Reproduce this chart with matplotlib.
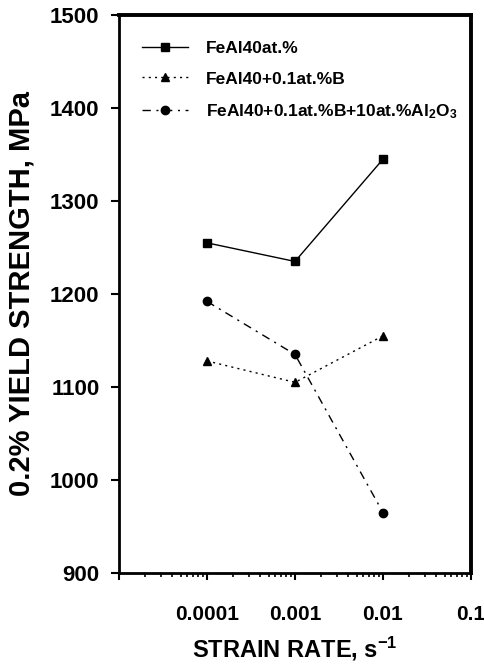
import matplotlib
matplotlib.use("Agg")
import matplotlib.pyplot as plt
from matplotlib.ticker import LogLocator, FixedLocator, NullFormatter, FixedFormatter

plt.rcParams['font.family'] = ['Liberation Sans', 'DejaVu Sans']
plt.rcParams['font.weight'] = 'bold'
plt.rcParams['mathtext.fontset'] = 'custom'
plt.rcParams['mathtext.rm'] = 'Liberation Sans:bold'
plt.rcParams['mathtext.bf'] = 'Liberation Sans:bold'
plt.rcParams['mathtext.it'] = 'Liberation Sans:bold'
plt.rcParams['mathtext.default'] = 'rm'

strain_rate = [0.0001, 0.001, 0.01]
feal40 = [1255, 1235, 1345]
feal40_b = [1128, 1105, 1155]
feal40_b_al2o3 = [1192, 1135, 965]
labels = ['FeAl40at.%', 'FeAl40+0.1at.%B', 'FeAl40+0.1at.%B+10at.%Al$_2$O$_3$']
xtick_vals = [0.0001, 0.001, 0.01, 0.1]
xtick_labels = ['0.0001', '0.001', '0.01', '0.1']
ytick_vals = [900, 1000, 1100, 1200, 1300, 1400, 1500]

W, H = 485, 668
fig = plt.figure(figsize=(W / 100, H / 100), dpi=100)
ax = fig.add_axes([119 / W, 1 - 573 / H, (471 - 119) / W, (573 - 15) / H])

ax.plot(strain_rate, feal40, color='black', lw=1.0, ls='-', marker='s', ms=5.5, label=labels[0])
ax.plot(strain_rate, feal40_b, color='black', lw=1.0, ls=(0, (1.5, 3)), marker='^', ms=6, label=labels[1])
ax.plot(strain_rate, feal40_b_al2o3, color='black', lw=1.0, ls=(0, (6, 4, 1.5, 4)), marker='o', ms=6, label=labels[2])

ax.set_xscale('log')
ax.set_xlim(1e-5, 0.1)
ax.set_ylim(900, 1500)

ax.xaxis.set_major_locator(FixedLocator([1e-5] + xtick_vals))
ax.xaxis.set_major_formatter(FixedFormatter([''] + xtick_labels))
ax.xaxis.set_minor_locator(LogLocator(base=10, subs=range(2, 10)))
ax.xaxis.set_minor_formatter(NullFormatter())
ax.set_yticks(ytick_vals)
ax.set_yticklabels([str(v) for v in ytick_vals])

ax.tick_params(axis='x', which='major', direction='out', length=5, width=1.5, pad=18, labelsize=15)
ax.tick_params(axis='x', which='minor', direction='out', length=3, width=1.2)
ax.tick_params(axis='y', which='major', direction='out', length=6, width=1.5, pad=8, labelsize=16)
ax.tick_params(top=False, right=False)
for lab in ax.get_xticklabels() + ax.get_yticklabels():
    lab.set_fontweight('bold')

for s in ['left', 'bottom']:
    ax.spines[s].set_linewidth(2)
for s in ['top', 'right']:
    ax.spines[s].set_linewidth(2.8)

ax.set_xlabel(r'STRAIN RATE, s$^{-1}$', fontsize=17, fontweight='bold')
ax.xaxis.set_label_coords(0.5, -0.11)
ax.set_ylabel('0.2% YIELD STRENGTH, MPa', fontsize=21, fontweight='bold')
ax.yaxis.set_label_coords(-0.236, 0.5)

leg = ax.legend(loc='upper left', bbox_to_anchor=(0.042, 0.969), frameon=False,
                handlelength=2.65, handletextpad=1.0, labelspacing=0.88, borderpad=0,
                prop={'weight': 'bold', 'size': 12.5})

fig.savefig('out.png', dpi=100)
